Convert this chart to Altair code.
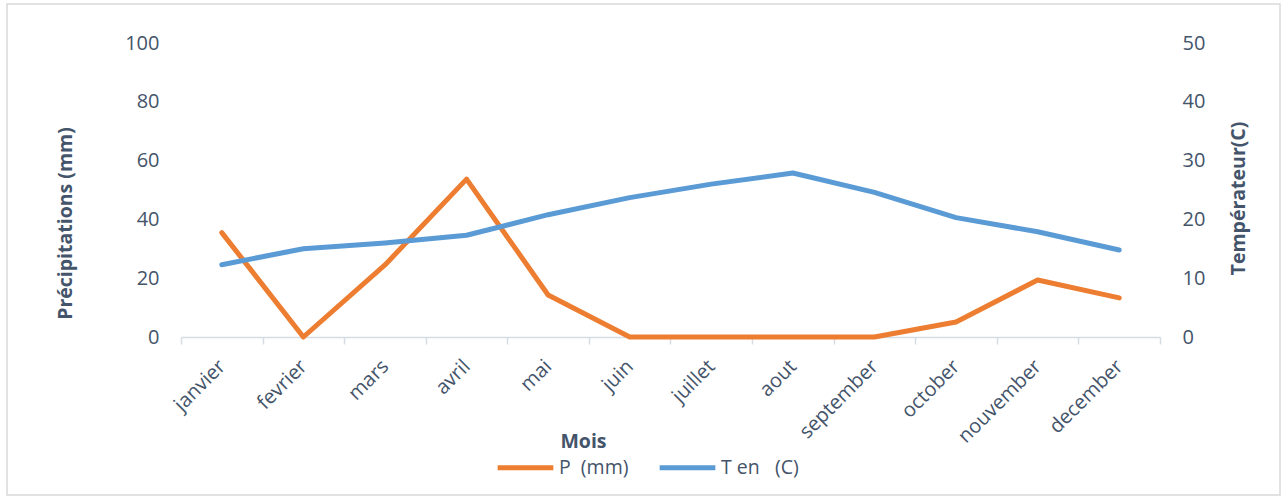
import altair as alt
import pandas as pd

# Monthly climate values
months = ["janvier", "fevrier", "mars", "avril", "mai", "juin", "juillet",
          "aout", "september", "october", "nouvember", "december"]
precip_mm = [35.5, 0, 24.5, 53.7, 14.3, 0, 0, 0, 0, 5.1, 19.4, 13.3]
temp_c = [12.3, 15.0, 16.0, 17.3, 20.8, 23.7, 26.0, 27.9, 24.6, 20.3, 17.9, 14.8]

series_names = ["P\u00a0\u00a0(mm)", "T en\u00a0\u00a0\u00a0(C)"]
series_colors = ["#ED7D31", "#5B9BD5"]

TEXT = "#44546A"
FONT = "Open Sans"

df_p = pd.DataFrame({"mois": months, "valeur": precip_mm, "serie": series_names[0]})
df_t = pd.DataFrame({"mois": months, "valeur": temp_c, "serie": series_names[1]})

W, H = 979, 294

x_enc = alt.X(
    "mois:N",
    sort=months,
    scale=alt.Scale(paddingInner=0, paddingOuter=0),
    axis=alt.Axis(
        title="Mois",
        titleX=402, titleY=104, titleBaseline="middle",
        titleFontSize=19.5, titleFontWeight="bold", titleColor=TEXT, titleFont=FONT,
        labelAngle=-45, labelAlign="right", labelBaseline="middle",
        labelPadding=19, labelFontSize=20, labelColor=TEXT, labelFont=FONT,
        tickBand="extent", tickSize=7, tickColor="#D6DCE4", tickWidth=1.5,
        domainColor="#D6DCE4", domainWidth=1.5, grid=False,
    ),
)

color_enc = alt.Color(
    "serie:N",
    scale=alt.Scale(domain=series_names, range=series_colors),
    legend=alt.Legend(
        title=None, orient="none", direction="horizontal",
        legendX=314, legendY=394,
        symbolType="stroke", symbolSize=3100, symbolStrokeWidth=5,
        labelFontSize=19.5, labelColor=TEXT, labelFont=FONT,
        columnPadding=20, labelOffset=3,
    ),
)

line_p = alt.Chart(df_p).mark_line(strokeWidth=5, strokeCap="round", strokeJoin="round").encode(
    x=x_enc,
    y=alt.Y(
        "valeur:Q",
        scale=alt.Scale(domain=[0, 100], nice=False),
        axis=alt.Axis(
            title="Précipitations (mm)", orient="left", values=[0, 20, 40, 60, 80, 100],
            titleX=-116, titleY=180, titleBaseline="middle", titleAlign="center",
            titleFontSize=19.5, titleFontWeight="bold", titleColor=TEXT, titleFont=FONT,
            labelFontSize=20, labelColor=TEXT, labelFont=FONT, labelPadding=22,
            ticks=False, domain=False, grid=False,
        ),
    ),
    color=color_enc,
)

line_t = alt.Chart(df_t).mark_line(strokeWidth=5, strokeCap="round", strokeJoin="round").encode(
    x=x_enc,
    y=alt.Y(
        "valeur:Q",
        scale=alt.Scale(domain=[0, 50], nice=False),
        axis=alt.Axis(
            title="Températeur(C)", orient="right", values=[0, 10, 20, 30, 40, 50],
            titleAngle=270, titleX=78, titleY=155, titleBaseline="middle", titleAlign="center",
            titleFontSize=19.5, titleFontWeight="bold", titleColor=TEXT, titleFont=FONT,
            labelFontSize=20, labelColor=TEXT, labelFont=FONT, labelPadding=22,
            ticks=False, domain=False, grid=False,
        ),
    ),
    color=color_enc,
)

# light outer frame around the whole figure
frame = alt.Chart(pd.DataFrame({"k": [0]})).mark_rect(
    fill=None, stroke="#D9D9D9", strokeWidth=1.5, clip=False
).encode(
    x=alt.value(-174), x2=alt.value(1099),
    y=alt.value(-39), y2=alt.value(452),
)

chart = alt.layer(frame, line_p, line_t).resolve_scale(y="independent").properties(
    width=W, height=H,
    autosize=alt.AutoSizeParams(type="none"),
    padding={"left": 181, "top": 43, "right": 128, "bottom": 162},
    background="white",
).configure_view(stroke=None)

chart.save("out.html", embed_options={"renderer": "svg", "actions": False})
